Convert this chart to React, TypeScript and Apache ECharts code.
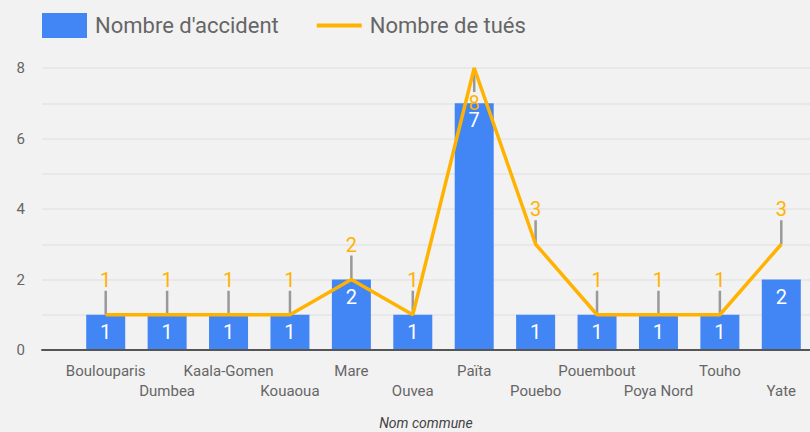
import React, { useEffect, useRef } from "react";
import * as echarts from "echarts";

const categories = [
  "Boulouparis",
  "Dumbea",
  "Kaala-Gomen",
  "Kouaoua",
  "Mare",
  "Ouvea",
  "Païta",
  "Pouebo",
  "Pouembout",
  "Poya Nord",
  "Touho",
  "Yate",
];
const accidents = [1, 1, 1, 1, 2, 1, 7, 1, 1, 1, 1, 2];
const tues = [1, 1, 1, 1, 2, 1, 8, 3, 1, 1, 1, 3];
const yMin = 0;
const yMax = 8;
const yLabelStep = 2;

const BLUE = "#4285F4";
const ORANGE = "#FFB200";
const FONT = "Roboto";

export default function App() {
  const ref = useRef<HTMLDivElement>(null);

  useEffect(() => {
    if (!ref.current) return;
    const chart = echarts.init(ref.current, null, { renderer: "svg" });
    const option: any = {
      animation: false,
      backgroundColor: "#f2f2f2",
      textStyle: { fontFamily: FONT },
      legend: {
        left: 37,
        top: 8,
        itemWidth: 45,
        itemHeight: 25,
        itemGap: 38,
        symbolKeepAspect: true,
        textStyle: { fontSize: 22, color: "#666", fontFamily: FONT, padding: [0, 0, 0, 3] },
        data: [
          { name: "Nombre d'accident", icon: "rect" },
          { name: "Nombre de tués", icon: "path://M0,0 L45,0 L45,4 L0,4 Z" },
        ],
      },
      grid: [
        { left: 75, right: -2, top: 68, bottom: 82, outerBoundsMode: "none" },
        { left: 42, right: 0, top: 68, bottom: 82, outerBoundsMode: "none" },
      ],
      xAxis: [
        {
          type: "category",
          gridIndex: 0,
          data: categories,
          axisLine: { show: false },
          axisTick: { show: false },
          axisLabel: {
            interval: 0,
            margin: 11,
            fontSize: 15,
            lineHeight: 20,
            color: "#666",
            fontFamily: FONT,
            formatter: (v: string, i: number) => (i % 2 === 1 ? "\n" + v : v),
          },
        },
        {
          type: "value",
          gridIndex: 1,
          min: 0,
          max: 1,
          axisLine: { show: true, lineStyle: { color: "#555", width: 2 } },
          axisTick: { show: false },
          axisLabel: { show: false },
          splitLine: { show: false },
          name: "Nom commune",
          nameLocation: "middle",
          nameGap: 66,
          nameTextStyle: { fontSize: 14, fontStyle: "italic", color: "#444", fontFamily: FONT },
          z: 5,
        },
      ],
      yAxis: [
        { type: "value", gridIndex: 0, min: yMin, max: yMax, show: false },
        {
          type: "value",
          gridIndex: 1,
          min: yMin,
          max: yMax,
          interval: 1,
          axisLine: { show: false },
          axisTick: { show: false },
          axisLabel: {
            margin: 17,
            fontSize: 15,
            color: "#666",
            fontFamily: FONT,
            formatter: (v: number) => (v % yLabelStep === 0 ? String(v) : ""),
          },
          splitLine: { lineStyle: { color: "#e4e4e4", width: 1.5 } },
        },
      ],
      series: [
        {
          name: "Nombre d'accident",
          type: "bar",
          xAxisIndex: 0,
          yAxisIndex: 0,
          data: accidents,
          barWidth: 39,
          itemStyle: { color: BLUE },
          label: {
            show: true,
            position: "insideTop",
            distance: 7,
            color: "#fff",
            fontSize: 20,
            fontFamily: FONT,
          },
          z: 2,
        },
        {
          name: "stems",
          type: "custom",
          xAxisIndex: 0,
          yAxisIndex: 0,
          data: tues.map((v, i) => [i, v]),
          encode: { x: 0, y: 1 },
          z: 3,
          silent: true,
          renderItem: (params: any, api: any) => {
            const i = api.value(0);
            const v = api.value(1);
            const p = api.coord([i, v]);
            const flip = p[1] - 50 < 40;
            const dir = flip ? 1 : -1;
            return {
              type: "group",
              children: [
                {
                  type: "line",
                  shape: { x1: p[0], y1: p[1], x2: p[0], y2: p[1] + dir * 24 },
                  style: { stroke: "#999", lineWidth: 2.5 },
                },
                {
                  type: "text",
                  x: p[0],
                  y: p[1] + dir * 35,
                  style: {
                    text: String(v),
                    fill: ORANGE,
                    font: `20px ${FONT}`,
                    align: "center",
                    verticalAlign: "middle",
                  },
                },
              ],
            };
          },
        },
        {
          name: "Nombre de tués",
          type: "line",
          xAxisIndex: 0,
          yAxisIndex: 0,
          data: tues,
          symbol: "none",
          showSymbol: false,
          lineStyle: { color: ORANGE, width: 3.5 },
          itemStyle: { color: ORANGE },
          z: 4,
        },
      ],
    };
    chart.setOption(option);
    return () => chart.dispose();
  }, []);

  return (
    <div
      ref={ref}
      style={{ position: "fixed", left: 0, top: 0, width: 810, height: 432, background: "#f2f2f2" }}
    />
  );
}
